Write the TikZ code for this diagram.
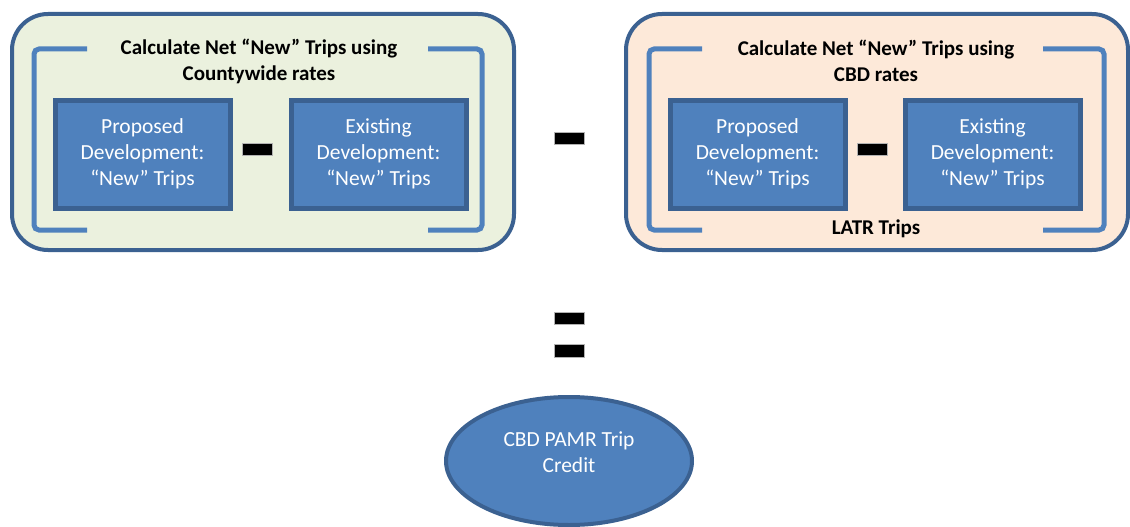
\documentclass[tikz,border=0pt]{standalone}
\usepackage{fontspec}
\setmainfont{Carlito}
\usetikzlibrary{shapes.geometric}
\definecolor{darkblue}{HTML}{3B6191}
\definecolor{midblue}{HTML}{4F81BD}
\definecolor{greenfill}{HTML}{EBF1DE}
\definecolor{peachfill}{HTML}{FDE9D9}
\tikzstyle{panel}=[draw=darkblue,line width=4pt,rounded corners=36pt,minimum width=502pt,minimum height=236pt]
\tikzstyle{tripbox}=[draw=darkblue,fill=midblue,line width=5pt,minimum width=175pt,minimum height=108pt,text=white,align=center,font=\fontsize{21.5}{26}\selectfont]
\tikzstyle{title}=[align=center,font=\fontsize{21}{26}\selectfont\bfseries]
\tikzstyle{bracket}=[draw=midblue,line width=5pt,rounded corners=5pt]
\tikzstyle{bar}=[fill=black,draw=gray!60,line width=0.6pt]

\begin{document}
\begin{tikzpicture}[x=1pt, y=-1pt]
	\useasboundingbox (0,0) rectangle (1130,527);
	\node[panel, fill=greenfill] (countyPanel) at (263,132) {};
	\node[panel, fill=peachfill] (cbdPanel) at (877,132) {};
	\draw[bracket] (87,49) -- (34,49) -- (34,230) -- (87,230);
	\draw[bracket] (428,49) -- (482,49) -- (482,230) -- (428,230);
	\draw[bracket] (702,49) -- (649,49) -- (649,230) -- (702,230);
	\draw[bracket] (1043,49) -- (1104,49) -- (1104,230) -- (1043,230);
	\node[title] (countyTitle) at (259,61) {Calculate Net “New” Trips using\\Countywide rates};
	\node[title] (cbdTitle) at (876,61) {Calculate Net “New” Trips using\\CBD rates};
	\node[title] (latr) at (876,229) {LATR Trips};
	\node[tripbox] (countyProposed) at (142.5,154) {Proposed\\Development:\\“New” Trips};
	\node[tripbox] (countyExisting) at (378.5,154) {Existing\\Development:\\“New” Trips};
	\node[tripbox] (cbdProposed) at (757.5,154) {Proposed\\Development:\\“New” Trips};
	\node[tripbox] (cbdExisting) at (992.5,154) {Existing\\Development:\\“New” Trips};
	\fill[bar] (242,143) rectangle (272,155);
	\fill[bar] (857,143) rectangle (887,155);
	\fill[bar] (554,132) rectangle (584,144);
	\fill[bar] (554,312) rectangle (584,324);
	\fill[bar] (554,344) rectangle (584,357);
	\node[ellipse, draw=darkblue, fill=midblue, line width=4pt, minimum width=246pt, minimum height=128pt] (credit) at (569,461) {};
	\node[text=white, align=center, font=\fontsize{21.5}{26}\selectfont] (creditText) at ([yshift=9pt]credit.center) {CBD PAMR Trip\\Credit};
\end{tikzpicture}
\end{document}
